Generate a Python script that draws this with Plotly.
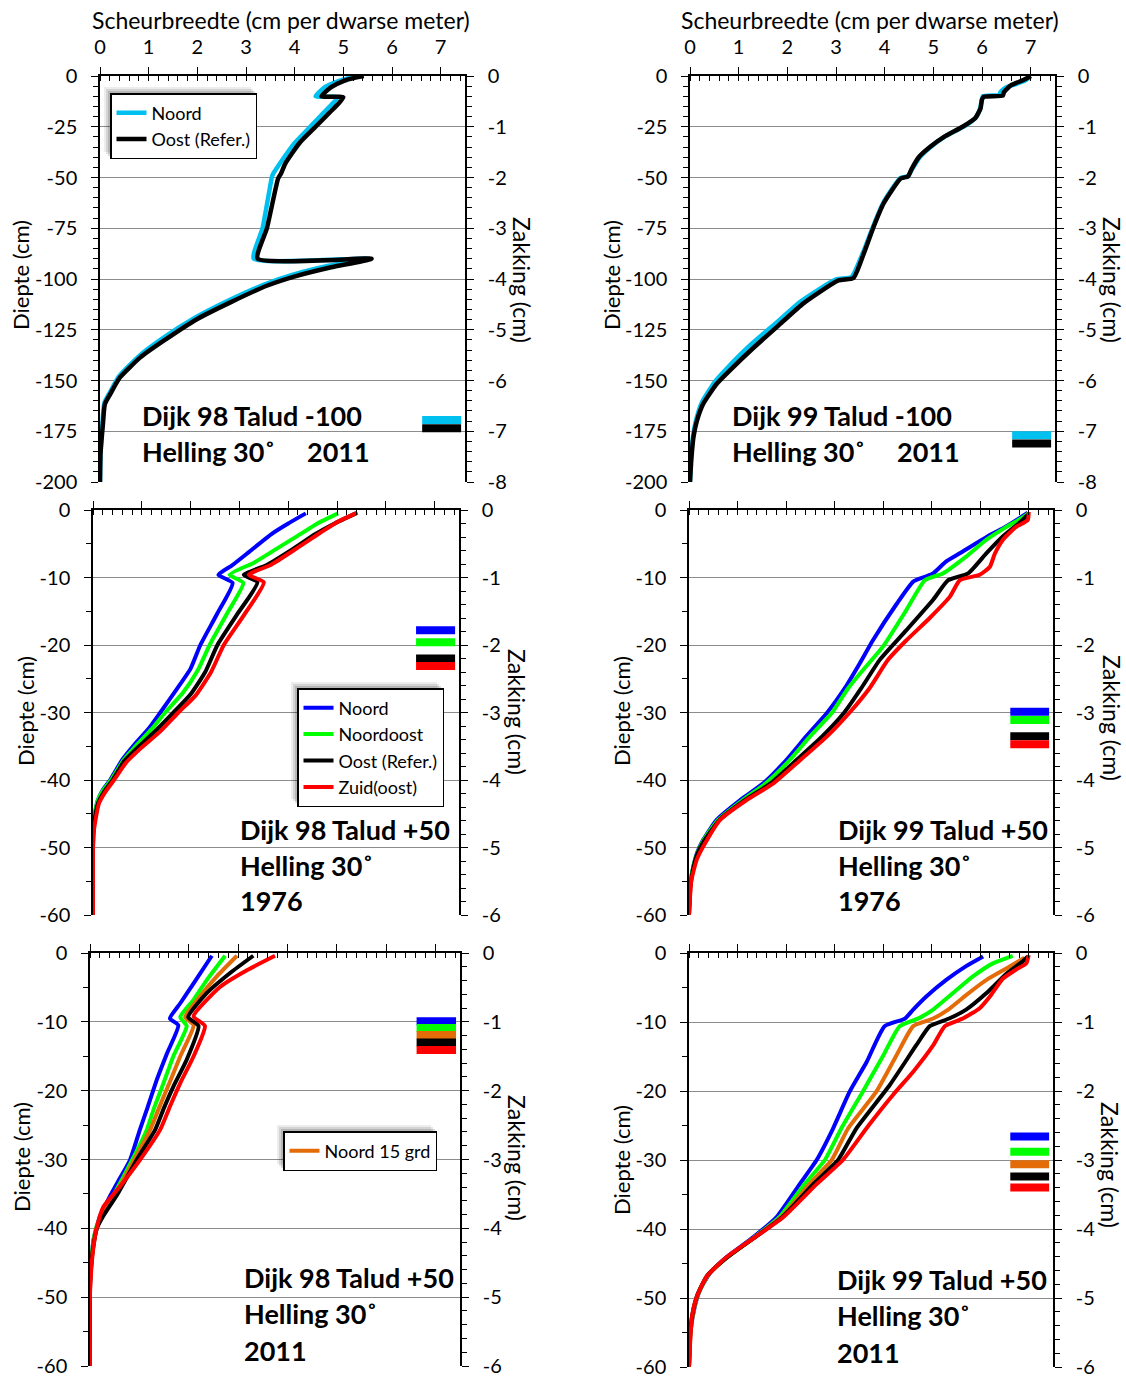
import plotly.graph_objects as go

FONT = "Lato"
W, H = 1126, 1379

# ---------------- colours ----------------
CYAN = "#00C0F0"
BLUE = "#0000FF"
GREEN = "#00FF00"
ORANGE = "#E36C09"
BLACK = "#000000"
RED = "#FF0000"

# ---------------- data: scheurbreedte (cm/m) versus diepte (cm) ----------------
# Dijk 98, talud -100, 2011
p1_noord_x = [5.35, 5.15, 4.9, 4.62, 4.43, 4.88, 4.6, 4.32, 4.0, 3.7, 3.55, 3.53, 3.34, 3.16,
              5.5, 4.7, 3.95, 3.4, 2.65, 1.96, 1.27, 0.8, 0.39, 0.2, 0.09, 0.05, 0.01, 0.0]
p1_noord_d = [0, -0.8, -2.5, -5.5, -10, -10.5, -18, -25, -33, -43, -48.5, -50, -75, -90,
              -90, -93.5, -98, -102.5, -110.5, -119, -129.5, -138, -148, -156, -161, -171, -186, -200]
p1_oost_x = [5.42, 5.25, 5.0, 4.75, 4.55, 5.0, 4.72, 4.43, 4.1, 3.81, 3.72, 3.66, 3.43, 3.24,
             5.58, 4.75, 3.99, 3.44, 2.69, 2.0, 1.31, 0.83, 0.41, 0.21, 0.1, 0.06, 0.01, 0.0]
p1_oost_d = [0, -0.8, -2.5, -5.5, -10, -10.5, -18, -25, -33, -43, -48, -50.5, -75, -90,
             -90, -94.2, -98.8, -103.2, -111.4, -119.7, -130.4, -138.6, -148.5, -156.7, -161.6, -171.5, -186.3, -200]

# Dijk 99, talud -100, 2011
p2_noord_x = [7.0, 6.9, 6.72, 6.5, 6.38, 6.35, 6.02, 6.0, 5.96, 5.88, 5.65, 5.25, 4.95, 4.72, 4.56,
              4.48, 4.32, 3.97, 3.76, 3.55, 3.32, 3.0, 2.28, 1.8, 1.22, 0.76, 0.5, 0.24, 0.12, 0.06, 0.02, 0.0]
p2_noord_d = [0, -2, -3.8, -5.5, -8, -9.3, -9.9, -11.5, -16, -20.3, -24.6, -29.6, -34.8, -40, -46,
              -49.3, -50.3, -62.5, -74.3, -87.3, -99, -100.2, -111, -121, -133, -144, -151, -161, -170, -178, -188, -200]
p2_oost_x = [7.0, 6.85, 6.6, 6.45, 6.43, 6.04, 6.0, 5.97, 5.86, 5.6, 5.22, 4.93, 4.7, 4.55,
             4.48, 4.33, 3.98, 3.77, 3.57, 3.36, 3.05, 2.33, 1.86, 1.3, 0.82, 0.55, 0.27, 0.14, 0.07, 0.03, 0.0]
p2_oost_d = [0, -2, -4.5, -8, -9.6, -10.2, -11.5, -16, -20.8, -25, -30, -35, -40, -46,
             -49.5, -50.5, -62.7, -74.5, -87.5, -99.5, -100.7, -112, -122, -134, -145, -151.6, -161.5, -170, -178, -188, -200]

# Dijk 98, talud +50, 1976
p3_noord_x = [4.36, 4.0, 3.65, 3.2, 2.85, 2.57, 2.86, 2.55, 2.2, 2.0, 1.72, 1.38, 1.15, 0.82, 0.6,
              0.35, 0.2, 0.1, 0.04, 0.01, 0.0, 0.0]
p3_noord_d = [-0.5, -2, -3.6, -6.2, -8.2, -9.6, -10.8, -15.3, -20, -23.5, -26.5, -30, -32.3, -35, -37,
              -40, -41.5, -43, -45, -47, -50, -60]
p3_noordoost_x = [5.02, 4.6, 4.2, 3.75, 3.3, 2.8, 3.08, 2.75, 2.39, 2.15, 1.85, 1.48, 1.22, 0.87, 0.63,
                  0.37, 0.21, 0.1, 0.04, 0.01, 0.0, 0.0]
p3_noordoost_d = [-0.5, -2, -3.8, -5.8, -7.8, -9.6, -10.8, -15.3, -20, -23.7, -27, -30, -32.3, -35, -37,
                  -40, -41.5, -43, -45, -47, -50, -60]
p3_oost_x = [5.39, 4.95, 4.55, 4.05, 3.55, 3.09, 3.37, 2.95, 2.55, 2.3, 2.0, 1.65, 1.3, 0.9, 0.64,
             0.4, 0.23, 0.11, 0.04, 0.01, 0.0, 0.0]
p3_oost_d = [-0.5, -2, -3.6, -6, -8.2, -9.6, -10.7, -15.5, -20, -24, -27.3, -30, -32.6, -35.3, -37.2,
             -40, -41.7, -43.3, -45.5, -47.5, -50, -60]
p3_zuid_x = [5.42, 5.0, 4.65, 4.15, 3.65, 3.19, 3.5, 3.1, 2.68, 2.42, 2.1, 1.75, 1.38, 0.95, 0.68,
             0.43, 0.25, 0.12, 0.05, 0.01, 0.0, 0.0]
p3_zuid_d = [-0.4, -1.8, -3.4, -5.8, -8.1, -9.6, -10.7, -15.5, -20, -24, -27.5, -30, -32.8, -35.5, -37.4,
             -40, -41.8, -43.5, -46, -48, -50.5, -60]

# Dijk 99, talud +50, 1976
p4_noord_x = [6.98, 6.81, 6.47, 6.2, 5.58, 5.3, 5.03, 4.86, 4.62, 4.27, 3.79, 3.52, 3.21, 2.85, 2.42,
              2.01, 1.53, 1.05, 0.57, 0.29, 0.16, 0.09, 0.02, 0.0]
p4_noord_d = [-0.4, -1.2, -2.7, -3.7, -6.4, -7.6, -9.4, -9.9, -10.6, -14, -19.3, -22.7, -26.4, -30, -33.5,
              -37, -40.5, -43, -45.9, -48.9, -50.9, -52.8, -55.8, -60]
p4_noordoost_x = [6.98, 6.9, 6.54, 6.13, 5.71, 5.23, 4.86, 4.48, 4.0, 3.55, 3.28, 2.95, 2.5, 2.08, 1.58,
                  1.1, 0.6, 0.3, 0.17, 0.09, 0.02, 0.0]
p4_noordoost_d = [-0.5, -1, -2.5, -4.4, -6.9, -9.4, -10.4, -14.8, -20.2, -24, -26.4, -30, -33.5, -37, -40.5,
                  -43, -45.9, -48.9, -50.9, -52.8, -55.8, -60]
p4_oost_x = [6.98, 6.81, 6.47, 6.13, 5.75, 5.34, 5.03, 4.48, 3.93, 3.55, 3.2, 2.75, 2.22, 1.68, 1.15,
             0.63, 0.31, 0.17, 0.09, 0.03, 0.0]
p4_oost_d = [-0.7, -1.9, -3.9, -6.4, -9.4, -10.4, -13.3, -17.8, -22.2, -26.4, -30, -33.5, -37, -40.5, -43,
             -45.9, -49, -51, -53, -55.8, -60]
p4_zuid_x = [7.0, 6.98, 6.74, 6.47, 6.3, 6.2, 5.99, 5.58, 5.38, 4.96, 4.48, 4.1, 3.72, 3.31, 2.85, 2.3,
             1.74, 1.18, 0.64, 0.29, 0.16, 0.05, 0.0]
p4_zuid_d = [-0.3, -1.5, -2.5, -4.4, -6.5, -8.4, -9.6, -10.4, -12.8, -16, -19.3, -22.2, -26.4, -30, -33.5, -37,
             -40.5, -43, -45.9, -49.9, -51.8, -54.8, -60]

# Dijk 98, talud +50, 2011
p5_noord_x = [2.47, 2.1, 1.83, 1.62, 1.79, 1.56, 1.35, 1.15, 1.01, 0.81, 0.6, 0.4, 0.2, 0.07, 0.03, 0.0, 0.0]
p5_noord_d = [-0.4, -4.4, -7.3, -9.5, -10.5, -14.6, -18.5, -22.8, -25.7, -30.1, -32.8, -35.4, -38.3, -41.7, -44.6, -47.5, -60]
p5_noordoost_x = [2.74, 2.37, 2.1, 1.83, 1.96, 1.69, 1.49, 1.3, 1.15, 0.86, 0.49, 0.22, 0.12, 0.04, 0.01, 0.0, 0.0]
p5_noordoost_d = [-0.4, -3.9, -6.8, -9.3, -10.6, -15, -18.9, -22.5, -25.7, -30, -35, -38.3, -40, -43.5, -46, -48, -60]
p5_noord15_x = [2.98, 2.57, 2.23, 1.93, 2.1, 1.83, 1.62, 1.4, 1.22, 0.9, 0.52, 0.24, 0.13, 0.05, 0.01, 0.0, 0.0]
p5_noord15_d = [-0.4, -3.4, -6.3, -9.3, -10.5, -15, -18.7, -22.5, -25.7, -30, -35, -38.3, -40, -43.5, -46.5, -48.5, -60]
p5_oost_x = [3.31, 2.84, 2.37, 1.99, 2.2, 1.96, 1.69, 1.5, 1.32, 0.95, 0.56, 0.26, 0.14, 0.05, 0.01, 0.0, 0.0]
p5_oost_d = [-0.4, -2.9, -5.8, -9.3, -10.6, -15.5, -19.4, -22.5, -25.7, -30, -35, -38.3, -40, -43.5, -47, -49, -60]
p5_zuid_x = [3.75, 3.18, 2.64, 2.1, 2.33, 2.1, 1.83, 1.62, 1.42, 1.01, 0.6, 0.27, 0.14, 0.07, 0.03, 0.0, 0.0]
p5_zuid_d = [-0.4, -2.5, -4.9, -9.2, -10.6, -15, -18.9, -22.3, -25.7, -30.1, -34, -36.9, -39.8, -42.7, -45.6, -49.5, -60]

# Dijk 99, talud +50, 2011
p6_noord_x = [6.06, 5.71, 5.3, 4.89, 4.62, 4.45, 4.03, 3.66, 3.31, 2.97, 2.63, 2.28, 1.8, 1.32, 0.77,
              0.43, 0.23, 0.12, 0.03, 0.0]
p6_noord_d = [-0.5, -1.9, -3.9, -6.3, -8.2, -9.5, -10.6, -15.8, -20.1, -25.4, -30, -33.5, -38.3, -41.2, -44.1,
              -46.4, -48.8, -51.2, -55, -60]
p6_noordoost_x = [6.67, 6.26, 5.85, 5.44, 5.03, 4.75, 4.34, 4.0, 3.58, 3.14, 2.8, 2.38, 1.86, 1.33, 0.77,
                  0.4, 0.2, 0.1, 0.03, 0.0]
p6_noordoost_d = [-0.4, -1.5, -3.4, -5.8, -8.2, -9.4, -10.6, -14.9, -20.1, -25.4, -30, -33.5, -38.3, -41.3, -44.2,
                  -46.6, -49.2, -51.5, -55, -60]
p6_noord15_x = [6.91, 6.6, 6.13, 5.71, 5.34, 5.03, 4.62, 4.27, 3.86, 3.28, 2.94, 2.48, 1.9, 1.33, 0.77,
                0.39, 0.19, 0.09, 0.03, 0.0]
p6_noord15_d = [-0.7, -2, -3.9, -6.1, -8.2, -9.5, -10.6, -14.9, -20.1, -25.4, -30, -33.5, -38.3, -41.3, -44.2,
                -46.7, -49.4, -52, -55, -60]
p6_oost_x = [6.98, 6.88, 6.54, 6.13, 5.71, 5.36, 4.96, 4.68, 4.13, 3.45, 3.07, 2.56, 1.92, 1.32, 0.77,
             0.37, 0.17, 0.07, 0.02, 0.0]
p6_oost_d = [-0.5, -1.2, -3, -5.8, -8.2, -9.5, -10.6, -13.4, -19.2, -25.4, -30, -33.5, -38.3, -41.4, -44.2,
             -46.8, -49.6, -52.4, -55.5, -60]
p6_zuid_x = [7.0, 6.95, 6.74, 6.47, 6.2, 5.99, 5.64, 5.27, 5.03, 4.62, 4.21, 3.7, 3.17, 2.63, 1.94, 1.32,
             0.77, 0.36, 0.16, 0.06, 0.0]
p6_zuid_d = [-0.3, -1.5, -2.4, -3.7, -6.3, -8.0, -9.5, -10.6, -13.4, -17.2, -20.5, -25, -30, -33.5, -38.3, -41.4,
             -44.1, -46.9, -49.8, -52.7, -60]

# ---------------- data: zakking (cm) per richting ----------------
p1_zakking = [-6.78, -6.94]                       # Noord, Oost
p2_zakking = [-7.08, -7.24]                       # Noord, Oost
p3_zakking = [-1.78, -1.96, -2.20, -2.31]         # Noord, Noordoost, Oost, Zuid(oost)
p4_zakking = [-2.99, -3.11, -3.35, -3.47]
p5_zakking = [-0.99, -1.09, -1.19, -1.30, -1.41]  # Noord, Noordoost, Noord 15 grd, Oost, Zuid(oost)
p6_zakking = [-2.66, -2.88, -3.06, -3.24, -3.40]

# ---------------- panel layout (pixel boxes: left, top, right, bottom) ----------------
panels = [
    dict(box=(100, 76, 465, 482), dmin=-200, dstep=25, zmin=-8, labels=True, lw=4.5,
         series=[("Noord", CYAN, p1_noord_x, p1_noord_d, "legend"),
                 ("Oost (Refer.)", BLACK, p1_oost_x, p1_oost_d, "legend")],
         zak=p1_zakking, zcol=[CYAN, BLACK],
         text=[("Dijk 98 Talud -100", 0.82, -167), ("Helling 30˚", 0.82, -185.2), ("2011", 4.21, -185.2)]),
    dict(box=(690, 76, 1055, 482), dmin=-200, dstep=25, zmin=-8, labels=True, lw=4.5,
         series=[("Noord", CYAN, p2_noord_x, p2_noord_d, None),
                 ("Oost (Refer.)", BLACK, p2_oost_x, p2_oost_d, None)],
         zak=p2_zakking, zcol=[CYAN, BLACK],
         text=[("Dijk 99 Talud -100", 0.82, -167), ("Helling 30˚", 0.82, -185.2), ("2011", 4.21, -185.2)]),
    dict(box=(93, 510, 459, 915), dmin=-60, dstep=10, zmin=-6, labels=False, lw=4,
         series=[("Noord", BLUE, p3_noord_x, p3_noord_d, "legend2"),
                 ("Noordoost", GREEN, p3_noordoost_x, p3_noordoost_d, "legend2"),
                 ("Oost (Refer.)", BLACK, p3_oost_x, p3_oost_d, "legend2"),
                 ("Zuid(oost)", RED, p3_zuid_x, p3_zuid_d, "legend2")],
         zak=p3_zakking, zcol=[BLUE, GREEN, BLACK, RED],
         text=[("Dijk 98 Talud +50", 2.97, -47.3), ("Helling 30˚", 2.97, -52.6), ("1976", 2.97, -57.9)]),
    dict(box=(689, 510, 1053, 915), dmin=-60, dstep=10, zmin=-6, labels=False, lw=4,
         series=[("Noord", BLUE, p4_noord_x, p4_noord_d, None),
                 ("Noordoost", GREEN, p4_noordoost_x, p4_noordoost_d, None),
                 ("Oost (Refer.)", BLACK, p4_oost_x, p4_oost_d, None),
                 ("Zuid(oost)", RED, p4_zuid_x, p4_zuid_d, None)],
         zak=p4_zakking, zcol=[BLUE, GREEN, BLACK, RED],
         text=[("Dijk 99 Talud +50", 3.03, -47.3), ("Helling 30˚", 3.03, -52.6), ("1976", 3.03, -57.8)]),
    dict(box=(90, 953, 460, 1366), dmin=-60, dstep=10, zmin=-6, labels=False, lw=4,
         series=[("Noord", BLUE, p5_noord_x, p5_noord_d, None),
                 ("Noordoost", GREEN, p5_noordoost_x, p5_noordoost_d, None),
                 ("Noord 15 grd", ORANGE, p5_noord15_x, p5_noord15_d, "legend3"),
                 ("Oost (Refer.)", BLACK, p5_oost_x, p5_oost_d, None),
                 ("Zuid(oost)", RED, p5_zuid_x, p5_zuid_d, None)],
         zak=p5_zakking, zcol=[BLUE, GREEN, ORANGE, BLACK, RED],
         text=[("Dijk 98 Talud +50", 3.08, -47.1), ("Helling 30˚", 3.08, -52.4), ("2011", 3.08, -57.7)]),
    dict(box=(689, 953, 1053, 1367), dmin=-60, dstep=10, zmin=-6, labels=False, lw=4,
         series=[("Noord", BLUE, p6_noord_x, p6_noord_d, None),
                 ("Noordoost", GREEN, p6_noordoost_x, p6_noordoost_d, None),
                 ("Noord 15 grd", ORANGE, p6_noord15_x, p6_noord15_d, None),
                 ("Oost (Refer.)", BLACK, p6_oost_x, p6_oost_d, None),
                 ("Zuid(oost)", RED, p6_zuid_x, p6_zuid_d, None)],
         zak=p6_zakking, zcol=[BLUE, GREEN, ORANGE, BLACK, RED],
         text=[("Dijk 99 Talud +50", 3.01, -47.3), ("Helling 30˚", 3.01, -52.6), ("2011", 3.01, -57.9)]),
]

XMAX = 7.5
BAR_X = [6.62, 7.42]   # horizontal extent of the settlement markers

fig = go.Figure()
layout = dict(template="none", width=W, height=H, autosize=False,
              margin=dict(l=0, r=0, t=0, b=0, pad=0),
              paper_bgcolor="white", plot_bgcolor="white",
              font=dict(family=FONT, color="black", size=20), annotations=[], shapes=[])


def hyph(v):
    return f"{v:g}"


for k, p in enumerate(panels, start=1):
    l, t, r, b = p["box"]
    xd = [l / W, r / W]
    yd = [1 - b / H, 1 - t / H]
    xn = "x" if k == 1 else f"x{k}"
    yn = "y" if k == 1 else f"y{k}"
    zn = f"y{k + 6}"
    xkey = "xaxis" if k == 1 else f"xaxis{k}"
    ykey = "yaxis" if k == 1 else f"yaxis{k}"

    layout[xkey] = dict(domain=xd, range=[0, XMAX], side="top", anchor=yn, automargin=False,
                        showline=True, linecolor="black", linewidth=1.5,
                        ticks="outside", ticklen=7, tickwidth=1.3, tickcolor="black",
                        tickmode="linear", tick0=0, dtick=1, showticklabels=p["labels"],
                        tickfont=dict(size=20), ticklabelstandoff=5, ticklabeloverflow="allow",
                        showgrid=False, zeroline=False,
                        minor=dict(tickmode="linear", tick0=0, dtick=0.2, ticks="inside",
                                   ticklen=5, tickwidth=1.2, tickcolor="black", showgrid=False))
    layout[f"xaxis{k + 6}"] = dict(domain=xd, range=[0, XMAX], side="top", anchor=yn, overlaying=xn,
                                   automargin=False,
                                   ticks="inside", ticklen=6, tickwidth=1.3, tickcolor="black",
                                   tickmode="linear", tick0=0, dtick=1, showticklabels=False,
                                   showline=False, showgrid=False, zeroline=False)
    dvals = list(range(0, p["dmin"] - 1, -p["dstep"]))
    layout[ykey] = dict(domain=yd, range=[p["dmin"], 0], anchor=xn, side="left", automargin=False,
                        showline=True, linecolor="black", linewidth=1.5,
                        ticks="outside", ticklen=7, tickwidth=1.3, tickcolor="black",
                        tickmode="array", tickvals=dvals, ticktext=[hyph(v) for v in dvals],
                        tickfont=dict(size=20), ticklabelstandoff=10, ticklabeloverflow="allow",
                        showgrid=True, gridcolor="#8c8c8c", gridwidth=1.2, zeroline=False,
                        minor=dict(tickmode="linear", tick0=0, dtick=5, ticks="outside",
                                   ticklen=5, tickwidth=1.2, tickcolor="black", showgrid=False))
    zvals = list(range(0, p["zmin"] - 1, -1))
    layout[f"yaxis{k + 6}"] = dict(range=[p["zmin"], 0], anchor=xn, overlaying=yn, side="right",
                                   automargin=False,
                                   showline=True, linecolor="black", linewidth=1.5,
                                   ticks="outside", ticklen=7, tickwidth=1.3, tickcolor="black",
                                   tickmode="array", tickvals=zvals, ticktext=[hyph(v) for v in zvals],
                                   tickfont=dict(size=20), ticklabelstandoff=10, ticklabeloverflow="allow",
                                   showgrid=False, zeroline=False,
                                   minor=dict(tickmode="linear", tick0=0, dtick=0.2, ticks="outside",
                                              ticklen=5, tickwidth=1.2, tickcolor="black", showgrid=False))

    # curves
    for name, col, xs, ds, leg in p["series"]:
        tr = dict(x=xs, y=ds, mode="lines", name=name,
                  line=dict(color=col, width=p["lw"], shape="spline", smoothing=0.5),
                  xaxis=xn, yaxis=yn, hoverinfo="skip")
        if leg:
            tr.update(showlegend=True, legend=leg)
        else:
            tr.update(showlegend=False)
        fig.add_trace(go.Scatter(**tr))

    # settlement markers on the right-hand axis
    for zv, col in zip(p["zak"], p["zcol"]):
        fig.add_trace(go.Scatter(x=BAR_X, y=[zv, zv], mode="lines", line=dict(color=col, width=8),
                                 xaxis=xn, yaxis=zn, showlegend=False, hoverinfo="skip"))

    # panel captions
    for txt, tx, ty in p["text"]:
        layout["annotations"].append(dict(text=f"<b>{txt}</b>", x=tx, y=ty, xref=xn, yref=yn,
                                          xanchor="left", yanchor="middle", showarrow=False,
                                          font=dict(size=27, family=FONT, color="black")))

# axis titles
for cx, cy in [(21, 275), (612, 275), (25, 711), (621, 711), (21, 1157), (621, 1160)]:
    layout["annotations"].append(dict(text="Diepte (cm)", x=cx / W, y=1 - cy / H, xref="paper", yref="paper",
                                      textangle=-90, showarrow=False, xanchor="center", yanchor="middle",
                                      font=dict(size=22)))
for cx, cy in [(522, 280), (1112, 280), (517, 712), (1112, 718), (517, 1158), (1110, 1165)]:
    layout["annotations"].append(dict(text="Zakking (cm)", x=cx / W, y=1 - cy / H, xref="paper", yref="paper",
                                      textangle=90, showarrow=False, xanchor="center", yanchor="middle",
                                      font=dict(size=23)))
for cx in (281, 870):
    layout["annotations"].append(dict(text="Scheurbreedte (cm per dwarse meter)", x=cx / W, y=1 - 20 / H,
                                      xref="paper", yref="paper", showarrow=False,
                                      xanchor="center", yanchor="middle", font=dict(size=23)))

legend_style = dict(bgcolor="white", bordercolor="black", borderwidth=1.5,
                    font=dict(size=18, family=FONT, color="black"),
                    xanchor="left", yanchor="top", tracegroupgap=0)
legend_boxes = {"legend": (110, 93, 257, 158),
                "legend2": (297, 688, 443, 805),
                "legend3": (283, 1131, 437, 1170)}
for key, (bl, bt, br, bb) in legend_boxes.items():
    layout[key] = dict(x=bl / W, y=1 - bt / H, **legend_style)
    # soft drop shadow up and to the left of each legend box
    for off, op in ((6, 0.07), (4, 0.10), (2, 0.14)):
        layout["shapes"].append(dict(type="rect", xref="paper", yref="paper", layer="above",
                                     x0=(bl - off) / W, x1=(br - off) / W,
                                     y0=1 - (bb - off) / H, y1=1 - (bt - off) / H,
                                     fillcolor=f"rgba(0,0,0,{op})", line=dict(width=0)))

fig.update_layout(**layout)
fig.write_html("out.html")
